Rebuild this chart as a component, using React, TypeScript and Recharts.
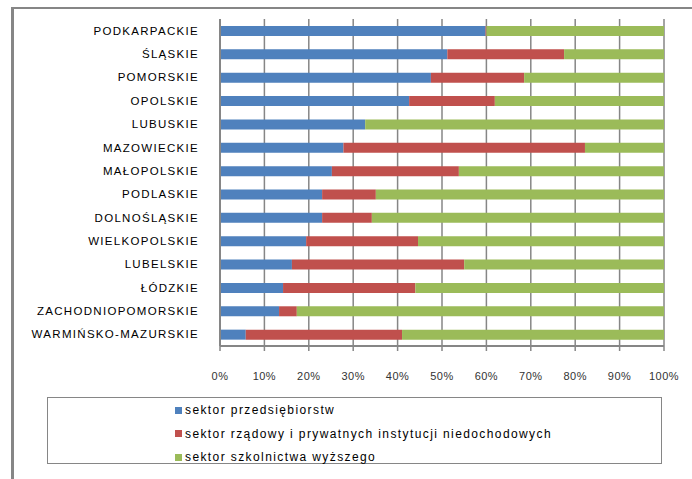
import React from 'react'
import { BarChart, Bar, XAxis, YAxis, CartesianGrid } from 'recharts'

const regions = [
  'PODKARPACKIE',
  'ŚLĄSKIE',
  'POMORSKIE',
  'OPOLSKIE',
  'LUBUSKIE',
  'MAZOWIECKIE',
  'MAŁOPOLSKIE',
  'PODLASKIE',
  'DOLNOŚLĄSKIE',
  'WIELKOPOLSKIE',
  'LUBELSKIE',
  'ŁÓDZKIE',
  'ZACHODNIOPOMORSKIE',
  'WARMIŃSKO-MAZURSKIE',
]

// udział sektorów w %
const przedsiebiorstw = [59.8, 51.2, 47.5, 42.6, 32.7, 27.8, 25.2, 23.0, 23.0, 19.4, 16.2, 14.2, 13.3, 5.8]
const rzadowy = [0.2, 26.3, 21.0, 19.3, 0, 54.4, 28.6, 12.1, 11.2, 25.2, 38.8, 29.8, 4.0, 35.2]
const szkolnictwo = [40.0, 22.5, 31.5, 38.1, 67.3, 17.8, 46.2, 64.9, 65.8, 55.4, 45.0, 56.0, 82.7, 59.0]

const xTicks = [0, 10, 20, 30, 40, 50, 60, 70, 80, 90, 100]

const series = [
  { key: 'a', name: 'sektor przedsiębiorstw', color: '#4F81BD' },
  { key: 'b', name: 'sektor rządowy i prywatnych instytucji niedochodowych', color: '#C0504D' },
  { key: 'c', name: 'sektor szkolnictwa wyższego', color: '#9BBB59' },
]

const data = regions.map((name, i) => ({
  name,
  a: przedsiebiorstw[i],
  b: rzadowy[i],
  c: szkolnictwo[i],
}))

const GRAY = '#868686'

const App = () => {
  return (
    <div style={{ position: 'absolute', left: 0, top: 0, width: 692, height: 479, background: '#fff', overflow: 'hidden' }}>
      {/* ramka */}
      <div style={{ position: 'absolute', left: 11, top: 7, width: 681, height: 2, background: GRAY }} />
      <div style={{ position: 'absolute', left: 11, top: 7, width: 3, height: 472, background: GRAY }} />

      <BarChart
        width={692}
        height={479}
        layout="vertical"
        data={data}
        barSize={10}
        margin={{ top: 19, right: 28, bottom: 93, left: 0 }}
        style={{ position: 'absolute', left: 0, top: 0 }}
      >
        <CartesianGrid horizontal={false} stroke={GRAY} strokeWidth={1.5} />
        <XAxis
          type="number"
          domain={[0, 100]}
          ticks={xTicks}
          tickFormatter={(v) => `${v}%`}
          axisLine={{ stroke: GRAY, strokeWidth: 2 }}
          tickLine={{ stroke: GRAY, strokeWidth: 1.5 }}
          tickSize={5}
          tickMargin={21}
          height={40}
          interval={0}
          tick={{ fill: '#333', fontSize: 11, fontFamily: 'Arial, Liberation Sans, sans-serif', letterSpacing: 0.5 }}
        />
        <YAxis
          type="category"
          dataKey="name"
          width={220}
          axisLine={{ stroke: GRAY, strokeWidth: 2 }}
          tickLine={false}
          tickSize={0}
          tickMargin={21}
          interval={0}
          tick={{ fill: '#000', fontSize: 11.5, fontFamily: 'Arial, Liberation Sans, sans-serif', letterSpacing: 1.3 }}
        />
        {series.map((s) => (
          <Bar key={s.key} dataKey={s.key} name={s.name} stackId="s" fill={s.color} isAnimationActive={false} />
        ))}
      </BarChart>

      {/* legenda */}
      <div
        style={{
          position: 'absolute',
          left: 47,
          top: 397,
          width: 613,
          height: 65,
          border: `1.5px solid ${GRAY}`,
          fontFamily: 'Arial, Liberation Sans, sans-serif',
          fontSize: 12,
          letterSpacing: 1.4,
          color: '#000',
        }}
      >
        {series.map((s, i) => (
          <div
            key={s.key}
            style={{ position: 'absolute', left: 127, top: 3 + i * 23.5, height: 18, display: 'flex', alignItems: 'center', whiteSpace: 'nowrap' }}
          >
            <span style={{ display: 'inline-block', width: 7, height: 7, background: s.color, marginRight: 3 }} />
            {s.name}
          </div>
        ))}
      </div>
    </div>
  )
}

export default App
